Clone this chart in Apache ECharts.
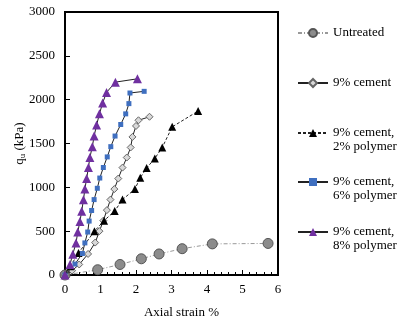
<!DOCTYPE html>
<html>
<head>
<meta charset="utf-8">
<script src="https://cdn.jsdelivr.net/npm/echarts@6/dist/echarts.min.js"></script>
<style>
  html, body { margin: 0; padding: 0; background: #fff; }
  #chart { width: 408px; height: 324px; }
</style>
</head>
<body>
<div id="chart"></div>
<script>
// strain (%) and qu (kPa)
const untreatedX = [0, 0.92, 1.55, 2.15, 2.65, 3.3, 4.15, 5.72];
const untreatedY = [0, 60, 120, 185, 240, 300, 355, 360];

const cementX = [0, 0.2, 0.4, 0.65, 0.85, 0.97, 1.08, 1.18, 1.28, 1.39, 1.5, 1.62, 1.74, 1.85, 1.9, 2.0, 2.07, 2.38];
const cementY = [0, 50, 120, 240, 370, 500, 620, 740, 860, 980, 1100, 1225, 1340, 1455, 1575, 1700, 1765, 1805];

const poly2X = [0, 0.15, 0.38, 0.83, 1.1, 1.4, 1.62, 1.97, 2.12, 2.3, 2.53, 2.74, 3.02, 3.75];
const poly2Y = [0, 100, 250, 500, 620, 730, 860, 980, 1110, 1220, 1330, 1455, 1690, 1870];

const poly6X = [0, 0.28, 0.49, 0.56, 0.64, 0.68, 0.75, 0.82, 0.91, 0.98, 1.08, 1.19, 1.29, 1.41, 1.57, 1.71, 1.8, 1.83, 2.23];
const poly6Y = [0, 125, 245, 366, 490, 615, 736, 860, 989, 1106, 1226, 1347, 1464, 1585, 1717, 1838, 1955, 2076, 2095];

const poly8X = [0, 0.14, 0.22, 0.31, 0.36, 0.42, 0.47, 0.52, 0.56, 0.61, 0.66, 0.7, 0.77, 0.82, 0.89, 0.97, 1.06, 1.17, 1.42, 2.04];
const poly8Y = [0, 121, 238, 366, 490, 611, 728, 857, 981, 1102, 1226, 1340, 1464, 1585, 1710, 1838, 1962, 2083, 2200, 2238];

const seriesNames = ['Untreated', '9% cement', '9% cement,\n2% polymer', '9% cement,\n6% polymer', '9% cement,\n8% polymer'];
const legendTops = [33, 83, 133, 182, 232];

function pairs(xs, ys) {
  return xs.map((x, i) => [x, ys[i]]);
}

const font = 'Liberation Serif, Times New Roman, serif';
const chart = echarts.init(document.getElementById('chart'));

// one legend per entry so each sits where the figure has it;
// two-line names get a blank line on top so the icon lines up with the first line
const legends = seriesNames.map((name, i) => {
  const twoLines = name.indexOf('\n') >= 0;
  return {
    orient: 'vertical',
    left: 297,
    top: legendTops[i] - (twoLines ? 21 : 7),
    padding: 0,
    itemWidth: 30,
    itemHeight: 10,
    selectedMode: false,
    data: [name],
    formatter: n => (n.indexOf('\n') >= 0 ? '\n' + n : n),
    textStyle: { fontFamily: font, fontSize: 13, color: '#000', lineHeight: 14 }
  };
});

const option = {
  animation: false,
  backgroundColor: '#fff',
  legend: legends,
  grid: { left: 65, right: 130, top: 12, bottom: 49, outerBoundsMode: 'none', containLabel: false },
  xAxis: {
    type: 'value',
    min: 0, max: 6, interval: 1,
    name: 'Axial strain %',
    nameLocation: 'middle',
    nameGap: 31,
    nameMoveOverlap: false,
    nameTextStyle: { fontFamily: font, fontSize: 13, color: '#000', padding: [0, 0, 0, 20] },
    axisLine: { show: true, onZero: false, lineStyle: { color: '#000', width: 2 } },
    axisTick: { show: true, inside: true, length: 5, lineStyle: { color: '#000' } },
    minorTick: { show: true, splitNumber: 5, length: 3, lineStyle: { color: '#000' } },
    axisLabel: { fontFamily: font, fontSize: 13, color: '#000', margin: 8 },
    splitLine: { show: false }
  },
  yAxis: {
    type: 'value',
    min: 0, max: 3000, interval: 500,
    name: '{q|q}{s|u}{q| (kPa)}',
    nameLocation: 'middle',
    nameGap: 38,
    nameMoveOverlap: false,
    nameTextStyle: {
      fontFamily: font, fontSize: 13, color: '#000',
      rich: {
        q: { fontFamily: font, fontSize: 13, color: '#000' },
        s: { fontFamily: font, fontSize: 9, color: '#000', verticalAlign: 'bottom', padding: [6, 0, 0, 0] }
      }
    },
    axisLine: { show: true, onZero: false, lineStyle: { color: '#000', width: 2 } },
    axisTick: { show: true, inside: true, length: 5, lineStyle: { color: '#000' } },
    axisLabel: { fontFamily: font, fontSize: 13, color: '#000', margin: 10, formatter: v => String(v) },
    splitLine: { show: false }
  },
  series: [
    {
      name: seriesNames[0],
      type: 'line',
      data: pairs(untreatedX, untreatedY),
      symbol: 'circle',
      symbolSize: 10,
      itemStyle: { color: '#8c8c8c', borderColor: '#555', borderWidth: 1 },
      lineStyle: { color: '#999', width: 1, type: [4, 2, 1, 2] },
      z: 2
    },
    {
      name: seriesNames[1],
      type: 'line',
      data: pairs(cementX, cementY),
      symbol: 'diamond',
      symbolSize: 7,
      itemStyle: { color: '#d9d9d9', borderColor: '#666', borderWidth: 1 },
      lineStyle: { color: '#222', width: 1 },
      z: 3
    },
    {
      name: seriesNames[2],
      type: 'line',
      data: pairs(poly2X, poly2Y),
      symbol: 'triangle',
      symbolSize: 8,
      itemStyle: { color: '#000' },
      lineStyle: { color: '#222', width: 1, type: [3, 2] },
      z: 4
    },
    {
      name: seriesNames[3],
      type: 'line',
      data: pairs(poly6X, poly6Y),
      symbol: 'rect',
      symbolSize: 5,
      itemStyle: { color: '#3f6fc0' },
      lineStyle: { color: '#222', width: 1 },
      z: 5
    },
    {
      name: seriesNames[4],
      type: 'line',
      data: pairs(poly8X, poly8Y),
      symbol: 'triangle',
      symbolSize: 9,
      itemStyle: { color: '#7030a0' },
      lineStyle: { color: '#222', width: 1 },
      z: 6
    }
  ],
  graphic: [{
    // frame on top and right of the plot
    type: 'rect',
    shape: { x: 65, y: 12, width: 213, height: 263 },
    style: { fill: 'none', stroke: '#000', lineWidth: 2 },
    silent: true
  }]
};

chart.setOption(option);
</script>
</body>
</html>
